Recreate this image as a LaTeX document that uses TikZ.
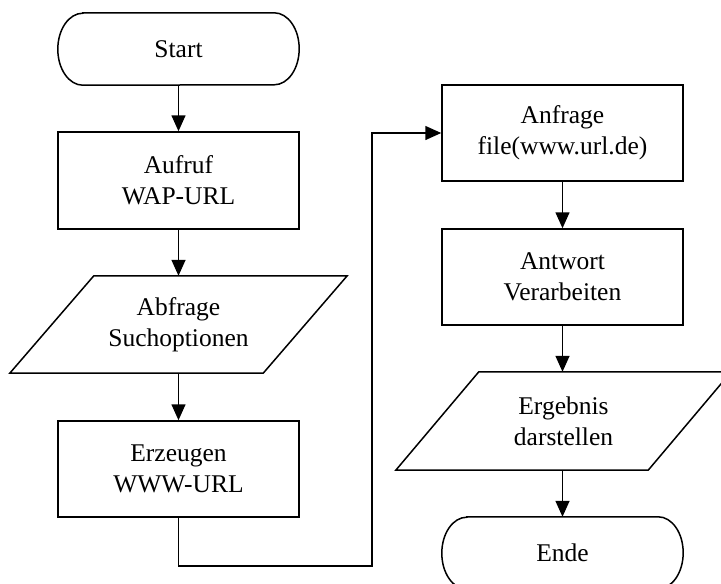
\documentclass[tikz,border=0pt]{standalone}
\usepackage{fontspec}
\setmainfont{Liberation Serif}
\usetikzlibrary{arrows.meta,calc}

\tikzset{
  flow/.style={line width=1.5pt, line join=miter},
  arr/.style={flow, -{Triangle[width=14pt,length=16pt]}},
  txt/.style={align=center, inner sep=0pt, font=\fontsize{25.5}{31}\selectfont},
  procbox/.style={txt, draw, flow, minimum width=241pt, minimum height=96pt},
  termbox/.style={txt, minimum width=241pt, minimum height=72pt},
  iobox/.style={txt, minimum width=337pt, minimum height=97pt},
}

% terminal outline with elliptical ends
\newcommand{\terminal}[1]{%
  \draw[flow] ($(#1.north west)+(25,0)$) -- ($(#1.north east)-(25,0)$)
    arc[start angle=90, end angle=-90, x radius=25pt, y radius=36pt]
    -- ($(#1.south west)+(25,0)$)
    arc[start angle=270, end angle=90, x radius=25pt, y radius=36pt] -- cycle;}
% input/output parallelogram leaning right
\newcommand{\iopar}[2]{%
  \draw[flow] (#1.south west) -- ($(#1.south east)-(#2,0)$)
    -- (#1.north east) -- ($(#1.north west)+(#2,0)$) -- cycle;}

\begin{document}
\begin{tikzpicture}[x=1pt, y=-1pt]
  \useasboundingbox (0,0) rectangle (721,584);
  \clip (0,0) rectangle (721,584);

  % left column
  \node[termbox] (start) at (178.5,49) {Start};
  \terminal{start}
  \node[procbox, minimum height=97pt] (aufruf) at (178.5,180.5) {Aufruf\\WAP-URL};
  \node[iobox] (abfrage) at (178.5,324.5) {Abfrage\\Suchoptionen};
  \iopar{abfrage}{84}
  \node[procbox] (erzeugen) at (178.5,469) {Erzeugen\\WWW-URL};

  % right column
  \node[procbox] (anfrage) at (562.5,133) {Anfrage\\file(www.url.de)};
  \node[procbox] (antwort) at (562.5,277) {Antwort\\Verarbeiten};
  \node[iobox, minimum width=335pt, minimum height=98pt] (ergebnis) at (563.5,421) {Ergebnis\\darstellen};
  \iopar{ergebnis}{83}
  \node[termbox] (ende) at (562.5,553) {Ende};
  \terminal{ende}

  % connectors
  \draw[arr] (start) -- (aufruf);
  \draw[arr] (aufruf) -- (abfrage);
  \draw[arr] (abfrage) -- (erzeugen);
  \coordinate (bend) at (372,566);
  \draw[arr] (erzeugen.south) |- (bend) |- (anfrage.west);
  \draw[arr] (anfrage) -- (antwort);
  \draw[arr] (antwort.south) -- (antwort.south |- ergebnis.north);
  \draw[arr] (ergebnis.south -| antwort.south) -- (antwort.south |- ende.north);
\end{tikzpicture}
\end{document}
